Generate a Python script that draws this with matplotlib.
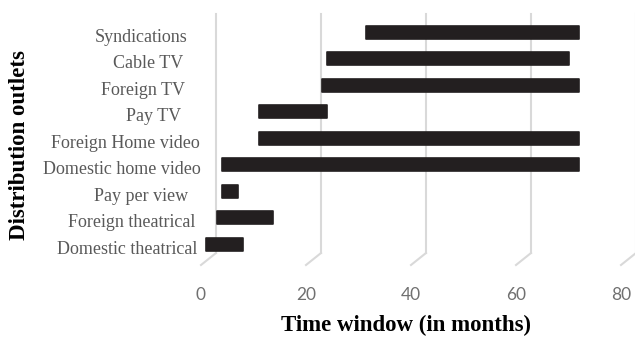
import numpy as np
import matplotlib.pyplot as plt
from matplotlib.transforms import ScaledTranslation

# distribution windows (months after release), bottom to top
outlets = ['Domestic theatrical', 'Foreign theatrical', 'Pay per view',
           'Domestic home video', 'Foreign Home video', 'Pay TV',
           'Foreign TV', 'Cable TV', 'Syndications']
start = [1, 3, 4, 4, 11, 11, 23, 24, 31.5]
end = [8, 13.7, 7, 72, 72, 24, 72, 70, 72]
xticks = [0, 20, 40, 60, 80]

# right edge of each outlet label, in pixels
label_right = [197, 195, 188, 201, 200, 181, 185, 183, 188]

W, H = 635, 340
fig = plt.figure(figsize=(W / 100, H / 100), dpi=100)
ax = fig.add_axes([201 / W, 75 / H, 420 / W, 255 / H])

ypos = np.arange(len(outlets))
widths = np.array(end) - np.array(start)
ax.barh(ypos, widths, left=start, height=0.49, color='#231f20',
        edgecolor='#231f20', linewidth=1.2, joinstyle='round', zorder=3)

ax.set_xlim(0, 80)
ax.set_ylim(-0.772, 8.83)

# back-wall gridlines with a slanted floor segment toward the front
depth = 80 * 15 / 420
trans = ax.get_xaxis_transform()
for v in xticks:
    ax.plot([v + depth, v + depth], [0.047, 0.985], color='#d9d9d9', lw=1.5,
            transform=trans, clip_on=False, zorder=1)
    ax.plot([v + depth, v], [0.047, 0.0], color='#d9d9d9', lw=1.5,
            transform=trans, clip_on=False, zorder=1)

for s in ax.spines.values():
    s.set_visible(False)
ax.set_xticks(xticks)
ax.tick_params(axis='x', length=0, pad=16, labelsize=12.5, labelcolor='#707070')
for t in ax.get_xticklabels():
    t.set_fontfamily('Lato')
ax.set_yticks([])

# category labels sit a little below their bars
shift = ScaledTranslation(0, -0.05, fig.dpi_scale_trans)
for i, name in enumerate(outlets):
    ax.text((label_right[i] - 201) / 420, i, name,
            transform=ax.get_yaxis_transform() + shift,
            ha='right', va='center', fontsize=13, family='Liberation Serif',
            color='#595959')

fig.text(406 / W, 1 - 325 / H, 'Time window (in months)', ha='center', va='center',
         fontsize=16.5, fontweight='bold', family='Liberation Serif')
fig.text(20 / W, 1 - 145 / H, 'Distribution outlets', ha='center', va='center',
         rotation=90, fontsize=16.5, fontweight='bold', family='Liberation Serif')

fig.savefig('out.png', dpi=100)
